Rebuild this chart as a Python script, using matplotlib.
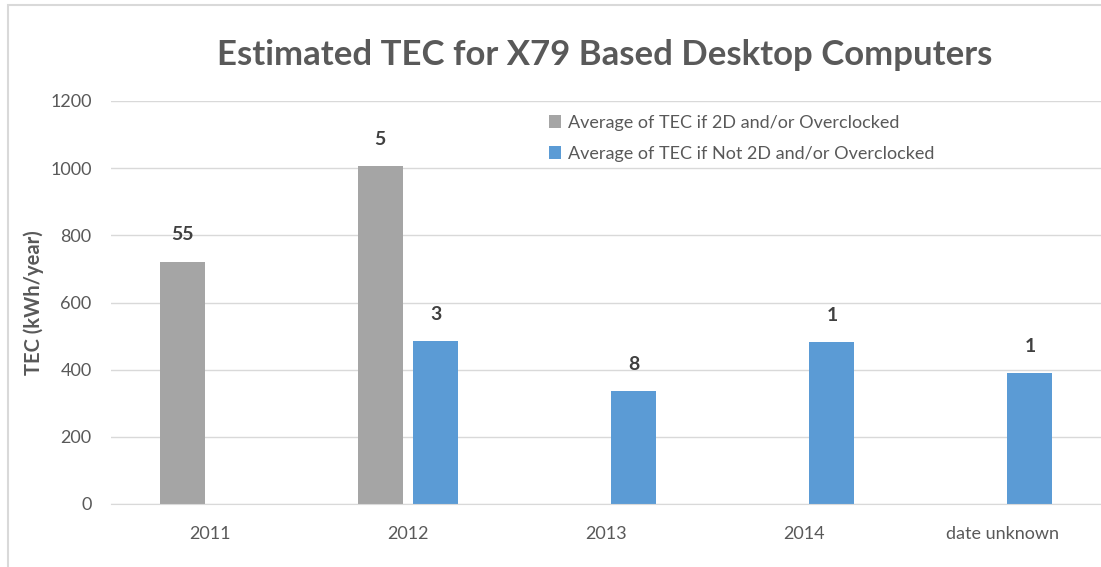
import matplotlib.pyplot as plt
import numpy as np
from matplotlib.patches import Rectangle

categories = ["2011", "2012", "2013", "2014", "date unknown"]
oc_values = [722, 1005, np.nan, np.nan, np.nan]
not_oc_values = [np.nan, 484, 335, 481, 390]
oc_counts = ["55", "5", "", "", ""]
not_oc_counts = ["", "3", "8", "1", "1"]

gray = "#a5a5a5"
blue = "#5b9bd5"
text_col = "#595959"

plt.rcParams['font.family'] = ['Lato', 'DejaVu Sans']

fig = plt.figure(figsize=(11.01, 5.67), dpi=100)
ax = fig.add_axes([111 / 1101, 1 - 504 / 567, 990 / 1101, 403 / 567])

x = np.arange(len(categories))
w = 0.227
off = 0.141
ax.bar(x - off, oc_values, w, color=gray, label="Average of TEC if 2D and/or Overclocked", zorder=2)
ax.bar(x + off, not_oc_values, w, color=blue, label="Average of TEC if Not 2D and/or Overclocked", zorder=2)

for xi, v, c in zip(x, oc_values, oc_counts):
    if c:
        ax.annotate(c, (xi - off, v), xytext=(0, 13), textcoords="offset points",
                    ha="center", va="bottom", fontsize=14, fontweight="bold", color="#404040")
for xi, v, c in zip(x, not_oc_values, not_oc_counts):
    if c:
        ax.annotate(c, (xi + off, v), xytext=(0, 13), textcoords="offset points",
                    ha="center", va="bottom", fontsize=14, fontweight="bold", color="#404040")

ax.set_xlim(-0.5, len(categories) - 0.5)
ax.set_ylim(0, 1200)
ax.set_yticks(range(0, 1201, 200))
ax.set_xticks(x)
ax.set_xticklabels(categories)
ax.tick_params(axis="both", length=0, labelsize=13, colors=text_col)
ax.tick_params(axis="x", pad=16)
ax.tick_params(axis="y", pad=14)
ax.grid(axis="y", color="#d9d9d9", linewidth=1, zorder=0)
for s in ["top", "right", "left"]:
    ax.spines[s].set_visible(False)
ax.spines["bottom"].set_color("#d9d9d9")
ax.set_ylabel("TEC (kWh/year)", fontsize=14.5, fontweight="bold", color=text_col, labelpad=4)

fig.text(605 / 1101, 1 - 55 / 567, "Estimated TEC for X79 Based Desktop Computers",
         ha="center", va="center", fontsize=25, fontweight="bold", color=text_col)

leg = ax.legend(loc="upper left", bbox_to_anchor=(545 / 1101, 1 - 111 / 567), bbox_transform=fig.transFigure,
                frameon=True, fontsize=13, handlelength=0.7, handleheight=0.7, handletextpad=0.4,
                labelspacing=0.85, borderaxespad=0, borderpad=0.2)
leg.get_frame().set_facecolor("white")
leg.get_frame().set_edgecolor("white")
leg.get_frame().set_alpha(1)
for t in leg.get_texts():
    t.set_color(text_col)

fig.patches.append(Rectangle((8 / 1101, -0.1), 1.2, 1.1 - 5 / 567, transform=fig.transFigure,
                             fill=False, edgecolor="#d9d9d9", linewidth=1.5))

fig.savefig("out.png", dpi=100)
